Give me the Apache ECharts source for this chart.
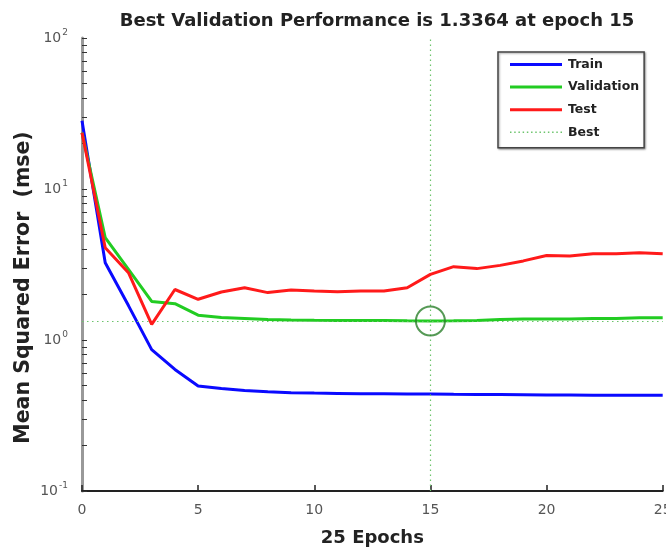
<!DOCTYPE html>
<html>
<head>
<meta charset="utf-8">
<title>Best Validation Performance</title>
<script src="https://cdn.jsdelivr.net/npm/echarts@6/dist/echarts.min.js"></script>
<style>
  html, body { margin: 0; padding: 0; background: #fff; }
  #chart { width: 666px; height: 550px; }
</style>
</head>
<body>
<div id="chart"></div>
<script>
// Training record: mean squared error per epoch
const epochs = [0,1,2,3,4,5,6,7,8,9,10,11,12,13,14,15,16,17,18,19,20,21,22,23,24,25];
const trainPerf = [28.3, 3.25, 1.69, 0.864, 0.638, 0.496, 0.478, 0.463, 0.455, 0.448, 0.445, 0.443, 0.441,
                   0.44, 0.439, 0.439, 0.437, 0.436, 0.435, 0.434, 0.433, 0.432, 0.431, 0.431, 0.43, 0.43];
const valPerf = [23.6, 4.76, 2.94, 1.80, 1.74, 1.46, 1.41, 1.39, 1.365, 1.355, 1.35, 1.348, 1.348,
                 1.345, 1.34, 1.3364, 1.34, 1.348, 1.369, 1.377, 1.377, 1.38, 1.39, 1.39, 1.405, 1.405];
const testPerf = [23.6, 4.08, 2.79, 1.27, 2.16, 1.86, 2.08, 2.22, 2.06, 2.14, 2.11, 2.09, 2.11,
                  2.11, 2.22, 2.72, 3.06, 2.97, 3.12, 3.34, 3.63, 3.60, 3.72, 3.72, 3.78, 3.72];
const bestEpoch = 15;
const bestPerf = 1.3364;

// Axis ticks
const xTicks = [0, 5, 10, 15, 20, 25];
const yDecades = [0.1, 1, 10, 100];
const yMinorTicks = [0.1,0.2,0.3,0.4,0.5,0.6,0.7,0.8,0.9,1,2,3,4,5,6,7,8,9,10,20,30,40,50,60,70,80,90,100];

const pair = arr => epochs.map((e, i) => [e, arr[i]]);

// Legend swatches: a solid bar, and a row of dots for the "Best" guide lines
const solidIcon = 'path://M0,0H52V3H0Z';
let dotPath = '';
for (let x = 0; x < 52; x += 4) dotPath += 'M' + x + ',0h1.4v1.4h-1.4z';
const dottedIcon = 'path://' + dotPath;

const chart = echarts.init(document.getElementById('chart'), null, { renderer: 'canvas' });

const txtFont = 'DejaVu Sans';
const bestColor = '#6cc46c';

chart.setOption({
  backgroundColor: '#ffffff',
  animation: false,
  title: {
    text: 'Best Validation Performance is ' + bestPerf + ' at epoch ' + bestEpoch,
    left: 372,
    top: 7,
    textAlign: 'center',
    textStyle: { fontFamily: txtFont, fontWeight: 'bold', fontSize: 18, color: '#222' }
  },
  legend: {
    data: [
      { name: 'Train', icon: solidIcon },
      { name: 'Validation', icon: solidIcon },
      { name: 'Test', icon: solidIcon },
      { name: 'Best', icon: dottedIcon }
    ],
    orient: 'vertical',
    left: 498,
    top: 52,
    padding: [6, 5, 9, 12],
    itemWidth: 52,
    itemHeight: 14,
    itemGap: 9.6,
    backgroundColor: '#fff',
    borderColor: '#444',
    borderWidth: 1.5,
    shadowColor: 'rgba(0,0,0,0.35)',
    shadowBlur: 2,
    shadowOffsetX: 1,
    shadowOffsetY: 1,
    textStyle: { fontFamily: txtFont, fontWeight: 'bold', fontSize: 12.5, color: '#222', padding: [0, 0, 0, 1] }
  },
  grid: { left: 82, right: 3.3, top: 38, bottom: 59, containLabel: false, outerBoundsMode: 'none' },
  xAxis: {
    type: 'value',
    min: 0,
    max: 25,
    interval: 5,
    name: epochs.length - 1 + ' Epochs',
    nameLocation: 'middle',
    nameGap: 38,
    nameMoveOverlap: false,
    nameTextStyle: { fontFamily: txtFont, fontWeight: 'bold', fontSize: 18, color: '#222' },
    axisLine: { lineStyle: { color: '#222', width: 2 } },
    axisTick: { inside: true, length: 6, lineStyle: { color: '#222', width: 1.5 } },
    axisLabel: {
      customValues: xTicks,
      margin: 12,
      hideOverlap: false,
      fontFamily: txtFont, fontSize: 14, color: '#555'
    },
    splitLine: { show: false }
  },
  yAxis: {
    type: 'log',
    logBase: 10,
    min: 0.1,
    max: 100,
    name: 'Mean Squared Error  (mse)',
    nameLocation: 'middle',
    nameGap: 48,
    nameMoveOverlap: false,
    nameTextStyle: { fontFamily: txtFont, fontWeight: 'bold', fontSize: 20.5, color: '#222', padding: [0, 46, 0, 0] },
    axisLine: { lineStyle: { color: '#999', width: 3 } },
    axisTick: { inside: true, length: 5, customValues: yMinorTicks, lineStyle: { color: '#333', width: 1 } },
    axisLabel: {
      customValues: yDecades,
      margin: 14,
      formatter: v => '10{e|' + Math.round(Math.log10(v)) + '}',
      fontFamily: txtFont, fontSize: 14, color: '#555',
      rich: { e: { fontFamily: txtFont, fontSize: 9, color: '#555', padding: [0, 0, 10, 1] } }
    },
    splitLine: { show: false }
  },
  series: [
    {
      name: 'Train', type: 'line', data: pair(trainPerf),
      symbol: 'none', lineStyle: { color: '#0a0aff', width: 3 }, itemStyle: { color: '#0a0aff' }, z: 3
    },
    {
      name: 'Validation', type: 'line', data: pair(valPerf),
      symbol: 'none', lineStyle: { color: '#22cc22', width: 3 }, itemStyle: { color: '#22cc22' }, z: 4
    },
    {
      name: 'Test', type: 'line', data: pair(testPerf),
      symbol: 'none', lineStyle: { color: '#ff1a1a', width: 3 }, itemStyle: { color: '#ff1a1a' }, z: 5
    },
    {
      name: 'Best', type: 'line', data: [[bestEpoch, bestPerf]],
      symbol: 'none', showSymbol: false,
      lineStyle: { color: bestColor, width: 1.2, type: 'dotted' }, itemStyle: { color: bestColor }, z: 2,
      markLine: {
        silent: true,
        symbol: 'none',
        label: { show: false },
        emphasis: { disabled: true },
        lineStyle: { color: bestColor, width: 1.2, type: [1.5, 3.5] },
        data: [{ xAxis: bestEpoch }, { yAxis: bestPerf }]
      }
    },
    {
      name: 'BestPoint', type: 'scatter', data: [[bestEpoch, bestPerf]],
      symbol: 'circle', symbolSize: 29,
      itemStyle: { color: 'rgba(0,0,0,0)', borderColor: '#2a7f2a', borderWidth: 2 },
      silent: true, z: 6
    }
  ]
});
</script>
</body>
</html>
